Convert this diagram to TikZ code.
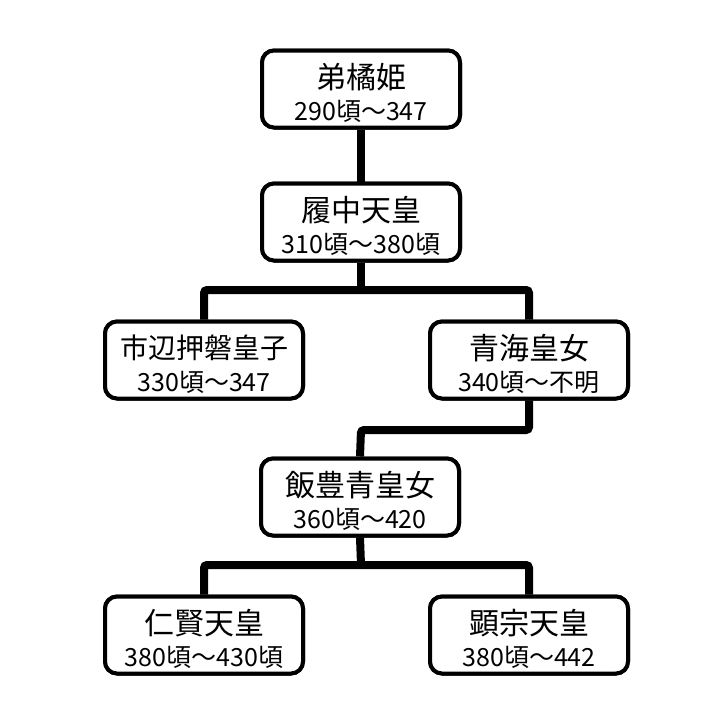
\documentclass[tikz,border=0pt]{standalone}
\usepackage{fontspec}
\setmainfont{Noto Sans CJK JP}
\begin{document}
\begin{tikzpicture}[x=1pt,y=-1pt,
  box/.style={draw=black,line width=4pt,rounded corners=12pt,fill=white,
    minimum width=198pt,minimum height=77pt,inner sep=0pt},
  ttl/.style={inner sep=0pt,font=\fontsize{30}{36}\selectfont},
  ttlsmall/.style={inner sep=0pt,font=\fontsize{28}{32}\selectfont},
  dt/.style={inner sep=0pt,font=\fontsize{25}{29}\selectfont},
  link/.style={line width=8pt,rounded corners=3pt}]
\useasboundingbox (0,0) rectangle (720,720);
\fill[white] (0,0) rectangle (720,720);
% boxes
\node[box] (b1) at (361,89) {};
\node[box] (b2) at (361,222) {};
\node[box] (b3) at (204,360) {};
\node[box] (b4) at (529,360) {};
\node[box] (b7) at (360,497) {};
\node[box] (b5) at (204,635) {};
\node[box] (b6) at (529,635) {};
% connectors
\coordinate (j1) at (361,290);
\coordinate (j2) at (361,430);
\coordinate (j3) at (361,565);
\draw[link] (b1.south) -- (b2.north);
\draw[link] (b2.south) -- (j1);
\draw[link] (b3.north) |- (j1) -| (b4.north);
\draw[link] (b4.south) |- (j2) -- (b7.north);
\draw[link] (b7.south) -- (j3);
\draw[link] (b5.north) |- (j3) -| (b6.north);
% redraw boxes on top
\node[box] at (b1) {};
\node[box] at (b2) {};
\node[box] at (b3) {};
\node[box] at (b4) {};
\node[box] at (b7) {};
\node[box] at (b5) {};
\node[box] at (b6) {};
% texts
\node[ttl] (t1) at ([shift={(0,-12)}]b1.center) {弟橘姫};
\node[dt] (d1) at ([shift={(0,22)}]b1.center) {290頃〜347};
\node[ttl] (t2) at ([shift={(0,-12)}]b2.center) {履中天皇};
\node[dt] (d2) at ([shift={(0,22)}]b2.center) {310頃〜380頃};
\node[ttlsmall] (t3) at ([shift={(0,-12)}]b3.center) {市辺押磐皇子};
\node[dt] (d3) at ([shift={(0,22)}]b3.center) {330頃〜347};
\node[ttl] (t4) at ([shift={(0,-12)}]b4.center) {青海皇女};
\node[dt] (d4) at ([shift={(0,22)}]b4.center) {340頃〜不明};
\node[ttl] (t7) at ([shift={(0,-12)}]b7.center) {飯豊青皇女};
\node[dt] (d7) at ([shift={(0,22)}]b7.center) {360頃〜420};
\node[ttl] (t5) at ([shift={(0,-12)}]b5.center) {仁賢天皇};
\node[dt] (d5) at ([shift={(0,22)}]b5.center) {380頃〜430頃};
\node[ttl] (t6) at ([shift={(0,-12)}]b6.center) {顕宗天皇};
\node[dt] (d6) at ([shift={(0,22)}]b6.center) {380頃〜442};
\end{tikzpicture}
\end{document}
